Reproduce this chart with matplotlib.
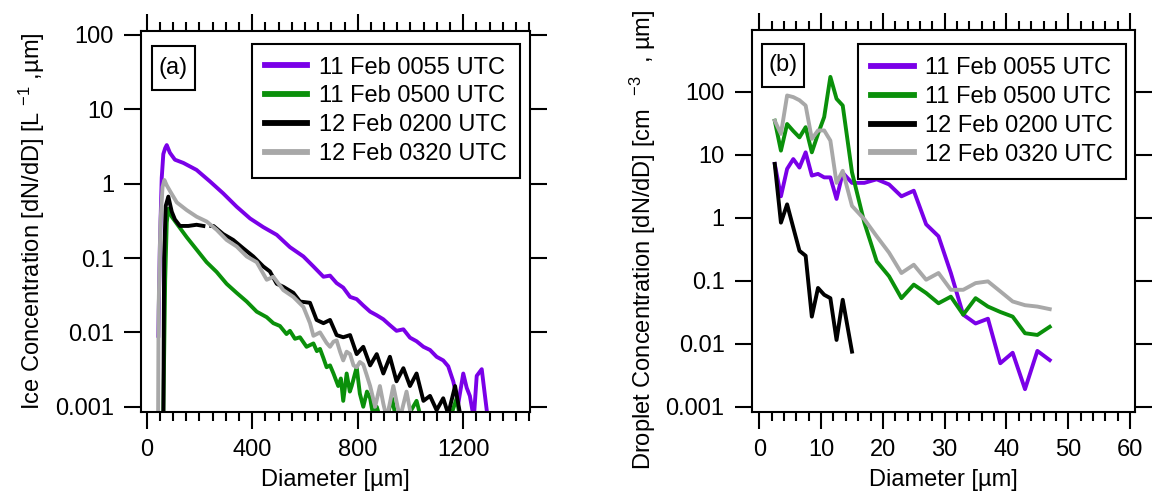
import numpy as np
import matplotlib
matplotlib.use("Agg")
import matplotlib.pyplot as plt
from matplotlib.patches import Rectangle
from matplotlib.ticker import FixedLocator, MultipleLocator, NullLocator, FuncFormatter

plt.rcParams["font.family"] = ["Liberation Sans", "DejaVu Sans"]
plt.rcParams["mathtext.fontset"] = "custom"
plt.rcParams["mathtext.rm"] = "Liberation Sans"
plt.rcParams["mathtext.default"] = "regular"

LABELS = ["11 Feb 0055 UTC", "11 Feb 0500 UTC", "12 Feb 0200 UTC", "12 Feb 0320 UTC"]
COLORS = ["#7a00e8", "#0a900a", "#000000", "#a8a8a8"]

# ---- panel (a): ice size distributions
ice_d_0055 = [44, 50, 57, 63, 70, 76, 88, 107, 139, 189, 240, 290, 341, 392, 442, 493, 543,
              594, 632, 670, 695, 720, 745, 771, 796, 821, 847, 872, 897, 922, 947, 973, 998,
              1023, 1049, 1074, 1099, 1124, 1143, 1162, 1181, 1200, 1213, 1225, 1240, 1251,
              1270, 1289]
ice_n_0055 = [0.009, 0.15, 1.2, 2.5, 3.0, 3.3, 2.6, 2.1, 1.9, 1.53, 1.07, 0.74, 0.49, 0.34,
              0.26, 0.205, 0.14, 0.105, 0.077, 0.056, 0.058, 0.046, 0.040, 0.030, 0.028, 0.023,
              0.019, 0.017, 0.015, 0.0125, 0.0105, 0.011, 0.0085, 0.0076, 0.0064, 0.0058,
              0.0047, 0.0042, 0.0035, 0.0022, 0.0011, 0.0028, 0.0018, 0.0014, 0.0007, 0.0026,
              0.0032, 0.0009]

ice_d_0500 = [63, 70, 76, 82, 95, 114, 152, 189, 227, 265, 303, 341, 379, 417, 455, 480, 505,
              530, 543, 562, 581, 606, 632, 645, 657, 670, 682, 695, 708, 726, 736, 745, 758,
              770, 777, 796, 808, 821, 835, 847, 860, 872, 885, 910, 930, 945, 985, 1023, 1040,
              1150, 1175, 1188]
ice_n_0500 = [0.0008, 0.05, 0.3, 0.46, 0.36, 0.29, 0.19, 0.13, 0.088, 0.065, 0.045, 0.034,
              0.026, 0.019, 0.016, 0.0133, 0.0122, 0.0095, 0.0105, 0.0082, 0.0086, 0.0064,
              0.0071, 0.0056, 0.0060, 0.0045, 0.0034, 0.0036, 0.0028, 0.0019, 0.0024, 0.0012,
              0.0028, 0.0016, 0.0019, 0.0034, 0.0015, 0.0010, 0.0016, 0.0013, 0.0007, 0.0010,
              0.0007, 0.0007, 0.0013, 0.0007, 0.0007, 0.0012, 0.0007, 0.0007, 0.0013, 0.0007]

ice_d_0200 = [63, 66, 72, 82, 95, 107, 126, 158, 189, 215, 230, 245, 253, 290, 328, 366, 404,
              442, 467, 493, 518, 556, 581, 619, 644, 670, 695, 720, 745, 771, 796, 821, 847,
              872, 897, 922, 947, 973, 998, 1023, 1049, 1074, 1099, 1124, 1143, 1169, 1188]
ice_n_0200 = [0.0005, 0.1, 0.5, 0.67, 0.42, 0.33, 0.27, 0.27, 0.28, 0.27, np.nan, 0.27, 0.27,
              0.21, 0.175, 0.135, 0.105, 0.077, 0.066, 0.045, 0.041, 0.034, 0.026, 0.025,
              0.0147, 0.0133, 0.0147, 0.0092, 0.0086, 0.0092, 0.0051, 0.0064, 0.0036, 0.0051,
              0.0028, 0.0047, 0.0022, 0.0033, 0.0019, 0.0028, 0.0012, 0.0014, 0.0009, 0.0013,
              0.0008, 0.0019, 0.0008]

ice_d_0320 = [43, 45, 52, 60, 67, 76, 88, 114, 152, 189, 227, 265, 303, 341, 379, 417, 455,
              480, 518, 556, 594, 619, 632, 657, 682, 695, 708, 720, 733, 745, 758, 771, 784,
              796, 808, 821, 835, 847, 866, 884, 897, 910, 935, 960, 985, 1004]
ice_n_0320 = [0.0005, 0.02, 0.3, 0.9, 1.12, 0.95, 0.8, 0.56, 0.44, 0.36, 0.31, 0.24, 0.175,
              0.143, 0.105, 0.088, 0.051, 0.056, 0.037, 0.030, 0.022, 0.0133, 0.009, 0.010,
              0.0072, 0.0064, 0.0075, 0.0078, 0.0055, 0.0042, 0.0055, 0.0051, 0.0036, 0.0034,
              0.0040, 0.0037, 0.0026, 0.0019, 0.0010, 0.0019, 0.0011, 0.0007, 0.0019, 0.0007,
              0.0016, 0.0007]

# ---- panel (b): droplet size distributions (CDP bin centres)
drop_d = [2.5, 3.5, 4.5, 5.5, 6.5, 7.5, 8.5, 9.5, 10.5, 11.5, 12.5, 13.5, 15, 17, 19, 21,
          23, 25, 27, 29, 31, 33, 35, 37, 39, 41, 43, 45, 47]
drop_n_0055 = [7.2, 2.2, 6.0, 8.6, 6.3, 11.0, 4.7, 5.0, 4.4, 4.4, 2.0, 5.2, 3.6, 3.6, 4.1,
               3.4, 2.2, 2.7, 0.79, 0.51, 0.133, 0.029, 0.021, 0.025, 0.0049, 0.0072, 0.0019,
               0.0077, 0.0055]
drop_n_0500 = [35, 11.7, 31, 24, 19, 27.6, 11, 21.6, 40, 174, 78, 61, 5.3, 0.84, 0.204, 0.118,
               0.053, 0.087, 0.064, 0.044, 0.056, 0.029, 0.053, 0.039, 0.032, 0.027, 0.0147,
               0.0138, 0.0186]
drop_d_0200 = [2.5, 3.5, 4.5, 5.5, 6.5, 7.5, 8.5, 9.5, 10.5, 11.5, 12.5, 13.5, 15]
drop_n_0200 = [7.2, 0.84, 1.64, 0.7, 0.30, 0.25, 0.027, 0.077, 0.06, 0.053, 0.0115, 0.05, 0.0075]
drop_n_0320 = [35, 21.6, 88, 83, 74, 61, 18, 24.5, 24.5, 16.9, 3.6, 5.6, 1.55, 0.95, 0.51,
               0.28, 0.133, 0.18, 0.104, 0.133, 0.072, 0.072, 0.092, 0.098, 0.068, 0.047,
               0.041, 0.039, 0.0355]

W, H = 1153, 503
LW = 2.8
FS = 17
TICKS_Y = [0.001, 0.01, 0.1, 1, 10, 100]


def style_axes(ax, xmajor, xminor, xlim, ylim):
    ax.set_yscale("log")
    ax.set_xlim(*xlim)
    ax.set_ylim(*ylim)
    ax.xaxis.set_major_locator(FixedLocator(xmajor))
    ax.xaxis.set_minor_locator(MultipleLocator(xminor))
    ax.yaxis.set_major_locator(FixedLocator(TICKS_Y))
    ax.yaxis.set_minor_locator(NullLocator())
    ax.yaxis.set_major_formatter(FuncFormatter(lambda v, p: f"{v:g}"))
    ax.xaxis.set_major_formatter(FuncFormatter(lambda v, p: f"{v:g}"))
    for s in ax.spines.values():
        s.set_linewidth(1.5)
    ax.tick_params(which="both", direction="out", top=True, right=True, width=1.5,
                   labelsize=FS)
    ax.tick_params(which="major", length=12.5)
    ax.tick_params(which="minor", length=6.5)
    ax.tick_params(axis="x", pad=7)
    ax.tick_params(axis="y", pad=7)


def add_legend(ax, x, y):
    leg = ax.legend(LABELS, loc="upper right", bbox_to_anchor=(x, y), fontsize=FS,
                    frameon=True, fancybox=False, framealpha=1, edgecolor="black",
                    handlelength=1.8, handletextpad=0.5, labelspacing=0.29, borderpad=0.55,
                    borderaxespad=0)
    leg.get_frame().set_linewidth(1.5)
    for ln in leg.get_lines():
        ln.set_linewidth(4.2)


def panel_tag(ax, text, x0, x1, y0, y1):
    ax.add_patch(Rectangle((x0, y0), x1 - x0, y1 - y0, transform=ax.transAxes,
                           fc="white", ec="black", lw=1.5, zorder=5))
    ax.text((x0 + x1) / 2, (y0 + y1) / 2, text, transform=ax.transAxes, fontsize=FS,
            ha="center", va="center", zorder=6)


fig = plt.figure(figsize=(W / 100, H / 100), dpi=100)

# (a) ice
axa = fig.add_axes([141 / W, 1 - 412 / H, 389 / W, 381.3 / H])
for d, n, c in [(ice_d_0055, ice_n_0055, COLORS[0]), (ice_d_0500, ice_n_0500, COLORS[1]),
                (ice_d_0200, ice_n_0200, COLORS[2]), (ice_d_0320, ice_n_0320, COLORS[3])]:
    axa.plot(d, n, color=c, lw=LW, solid_joinstyle="round")
style_axes(axa, [0, 400, 800, 1200], 50, (-21.6, 1453), (0.00085, 114))
axa.set_xlabel("Diameter [µm]", fontsize=FS, labelpad=6)
axa.set_ylabel("Ice Concentration [dN/dD] [L $^{-1}$ ,µm]", fontsize=FS, labelpad=6)
add_legend(axa, 0.974, 0.966)
panel_tag(axa, "(a)", 0.0283, 0.1388, 0.8455, 0.9607)

# (b) droplets
axb = fig.add_axes([751.7 / W, 1 - 412 / H, 383.3 / W, 382 / H])
for d, n, c in [(drop_d, drop_n_0055, COLORS[0]), (drop_d, drop_n_0500, COLORS[1]),
                (drop_d_0200, drop_n_0200, COLORS[2]), (drop_d, drop_n_0320, COLORS[3])]:
    axb.plot(d, n, color=c, lw=LW, solid_joinstyle="round")
style_axes(axb, [0, 10, 20, 30, 40, 50, 60], 2, (-1.23, 60.8), (0.000824, 966))
axb.set_xlabel("Diameter [µm]", fontsize=FS, labelpad=6)
axb.set_ylabel("Droplet Concentration [dN/dD] [cm  $^{-3}$  , µm]", fontsize=FS)
axb.yaxis.set_label_coords(-0.245, 0.45)
add_legend(axb, 0.977, 0.963)
panel_tag(axb, "(b)", 0.0269, 0.1364, 0.8508, 0.9634)

fig.savefig("out.png", dpi=100)
